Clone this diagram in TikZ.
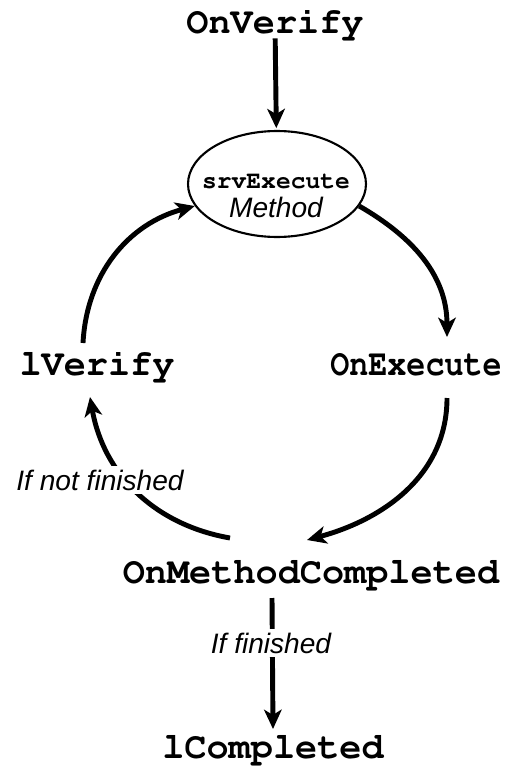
\documentclass[tikz,border=0pt]{standalone}
\usepackage[T1,TU]{fontenc}
\usepackage{fontspec}
\setmainfont{Liberation Sans}
\setmonofont{Liberation Mono}
\usetikzlibrary{arrows.meta, calc}
\usetikzlibrary{shapes.geometric}

\newcommand{\courb}{\fontencoding{T1}\fontfamily{pcr}\fontseries{b}\selectfont}

\begin{document}
\begin{tikzpicture}[x=0.02cm, y=0.02cm,
  state/.style={inner sep=0pt, anchor=base, font=\courb\fontsize{21}{25}\selectfont},
  cond/.style={fill=white, inner sep=2pt, font=\fontsize{16}{19}\selectfont\itshape},
  arr/.style={line width=2.8pt, -{Stealth[length=11pt, width=10pt, inset=3pt]}}]
  \useasboundingbox (0,0) rectangle (506,-774);
  \node[state] (onverify) at (275,-33) {OnVerify};
  \node[ellipse, draw, line width=1.2pt, minimum width=3.56cm, minimum height=2.12cm,
    inner sep=0pt] (srv) at (277,-184) {};
  \node[inner sep=0pt, anchor=base, align=center, font=\fontsize{16}{16.5}\selectfont] (srvtext) at (276,-217)
    {{\courb\fontsize{14}{16.5}\selectfont srvExecute}\\\itshape Method};
  \node[state] (lverify) at (97,-375) {lVerify};
  \node[state] (onexecute) at (416,-375) {\scalebox{0.86}[1]{OnExecute}};
  \node[state] (onmethod) at (311,-583) {OnMethodCompleted};
  \node[state] (lcompleted) at (273,-758) {lCompleted};
  % the cycle
  \draw[arr, shorten >=1pt] (onverify) -- (srv);
  \draw[arr] (srv.-15) to[out=-30, in=90] ($(onexecute.base)+(31,38)$);
  \draw[arr] ($(onexecute.base)+(31,-23)$) to[out=-90, in=15] ($(onmethod.base)+(-4,43)$);
  \draw[arr] ($(onmethod.base)+(-81,45)$) to[out=170, in=-80] ($(lverify.base)+(-7,-22)$);
  \draw[arr] ($(lverify.base)+(-14,32)$) to[out=87, in=195] (srv.195);
  \draw[arr] ($(onmethod.base)+(-39,-15)$) -- ($(lcompleted.base)+(0,29)$);
  % conditions
  \node[cond] (notfin) at (100,-480) {If not finished};
  \node[cond] (fin) at (271,-643) {If finished};
\end{tikzpicture}
\end{document}
